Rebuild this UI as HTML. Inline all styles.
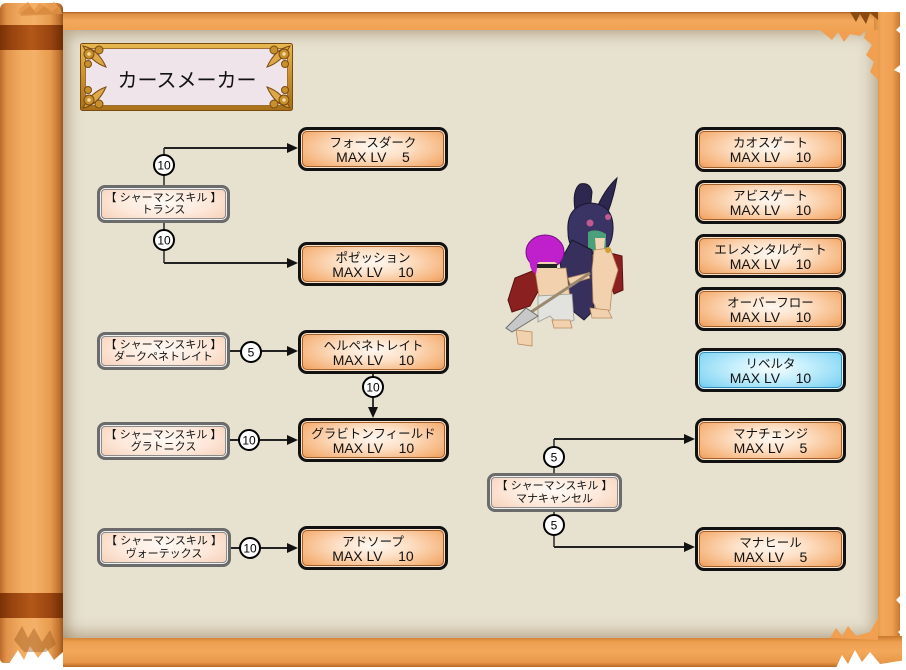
<!DOCTYPE html>
<html><head><meta charset="utf-8">
<style>
*{margin:0;padding:0}
html,body{width:906px;height:670px;overflow:hidden;background:#fff}
body{position:relative;font-family:"Liberation Sans","Noto Sans CJK JP",sans-serif;color:#111}
.a{position:absolute}
.topbar{left:40px;top:12px;width:852px;height:24px;background:linear-gradient(#a85e1e 0,#dc8e40 2px,#f2a85c 35%,#f0a252 75%,#d4883a 100%)}
.rightbar{left:874px;top:12px;width:26px;height:655px;background:linear-gradient(to right,#d88c3e 0,#f2a85a 30%,#f0a050 70%,#c8782c 100%)}
.botbar{left:40px;top:636px;width:862px;height:31px;background:linear-gradient(#c8782c 0,#eea050 20%,#f2a85a 50%,#e89848 85%,#b86a24 100%)}
.parch{left:62px;top:30px;width:816px;height:608px;background:#e7e1d0;box-shadow:inset 10px 8px 14px -4px rgba(140,110,70,.5),inset -10px -10px 14px -4px rgba(140,110,70,.45)}
.roll{left:0;top:3px;width:63px;height:660px;border-radius:6px 6px 4px 4px;background:linear-gradient(to right,#b96c2a 0,#e0924a 10%,#f2ac62 35%,#f4b068 55%,#e89c4e 80%,#c07230 94%,#9a5420 100%)}
.band{left:0;width:63px;height:25px;background:linear-gradient(to right,#7a3206 0,#9a4510 20%,#b25818 50%,#9a4510 80%,#6e2c04 100%)}
.sk{position:absolute;box-sizing:border-box;display:flex;flex-direction:column;align-items:center;justify-content:center;padding-top:2px;border:3px solid #111;border-radius:9px;background:radial-gradient(ellipse 62% 75% at 50% 45%,#fff8f2 0%,#fde0c6 40%,#f6b47c 85%,#f0a264 100%);box-shadow:inset 0 0 0 1px #fbe2cc,inset 0 0 0 2px #a0602c}
.blue{background:radial-gradient(ellipse 62% 75% at 50% 45%,#f6fdff 0%,#c8f0fd 40%,#8ed9f5 85%,#74cdf0 100%);box-shadow:inset 0 0 0 1px #e0f6ff,inset 0 0 0 2px #3a8cb8}
.j{font-size:12.5px;line-height:14px;white-space:nowrap}
.m{font-size:14px;line-height:15px;white-space:nowrap}
.pr{position:absolute;box-sizing:border-box;display:flex;flex-direction:column;align-items:center;justify-content:center;border:3px solid #6b6b6b;border-radius:8px;background:radial-gradient(ellipse 65% 80% at 50% 45%,#fffaf6 0%,#fde8da 55%,#f6d0b8 100%);box-shadow:inset 0 0 0 1px #f0f0f0,inset 0 0 0 2px #8c8c8c;font-size:11px;line-height:12.5px;white-space:nowrap}
</style></head><body>

<div class="a topbar"></div>
<div class="a rightbar"></div>
<div class="a botbar"></div>
<div class="a parch"></div>
<div class="a roll"></div>
<div class="a band" style="top:25px"></div>
<div class="a band" style="top:593px"></div>

<!-- torn details -->
<svg class="a" style="left:0;top:0" width="906" height="670">
  <polygon points="20,8 28,2 34,10 40,3 46,9 54,2 60,8 62,14 18,14" fill="#e89a4c"/>
  <polygon points="22,12 30,6 36,13 44,6 52,12 58,6 62,14 20,16" fill="#d08438" opacity=".6"/>
  <polygon points="850,12 856,22 860,14 866,24 870,13 878,20 878,12" fill="#8a4a14"/>
  <polygon points="820,30 832,40 838,32 844,42 850,34 860,36 866,30" fill="#f0a050"/>
  <polygon points="866,30 878,30 878,80 870,72 874,62 866,55 872,45 864,38" fill="#f0a050"/>
  <polygon points="906,20 896,30 906,38" fill="#fff"/>
  <polygon points="906,60 894,70 906,76" fill="#fff"/>
  <polygon points="906,590 896,600 906,610" fill="#fff"/>
  <polygon points="906,625 898,632 906,640" fill="#fff"/>
  <polygon points="835,670 842,655 848,664 855,650 862,662 870,652 880,664 906,660 906,670" fill="#fff"/>
  <polygon points="830,638 836,628 842,636 848,626 856,636 870,632 878,618 878,640" fill="#f0a050"/>
  <polygon points="10,662 18,650 24,660 30,646 38,658 46,648 54,660 63,652 63,670 10,670" fill="#fff"/>
  <polygon points="14,640 22,626 28,638 34,628 42,642 50,630 56,644 46,652 24,652" fill="#a05a20" opacity=".45"/>
</svg>

<!-- title plaque -->
<svg class="a" style="left:80px;top:43px" width="213" height="68">
  <defs>
    <linearGradient id="g" x1="0" y1="0" x2="0" y2="1">
      <stop offset="0" stop-color="#e8b850"/><stop offset=".5" stop-color="#c89030"/><stop offset="1" stop-color="#a87018"/>
    </linearGradient>
    <g id="orn">
      <path d="M3,3 Q18,6 26,24 Q11,19 3,3Z" fill="#dca848" stroke="#7a4a10" stroke-width="1"/>
      <circle cx="9" cy="11" r="5" fill="#c8902c" stroke="#7a4a10" stroke-width="1"/>
      <circle cx="19" cy="7" r="4" fill="#c8902c" stroke="#7a4a10" stroke-width="1"/>
      <circle cx="8" cy="21" r="3.5" fill="#c8902c" stroke="#7a4a10" stroke-width="1"/>
      <circle cx="9" cy="11" r="1.8" fill="#f4dca0"/>
    </g>
  </defs>
  <rect x="0.5" y="0.5" width="212" height="67" rx="2" fill="url(#g)" stroke="#7a4a10"/>
  <rect x="5.5" y="5.5" width="202" height="57" fill="#efe4ea" stroke="#a07030"/>
  <use href="#orn"/>
  <use href="#orn" transform="translate(213,0) scale(-1,1)"/>
  <use href="#orn" transform="translate(0,68) scale(1,-1)"/>
  <use href="#orn" transform="translate(213,68) scale(-1,-1)"/>
  <text x="107" y="44" text-anchor="middle" font-family="Liberation Sans, Noto Sans CJK JP, sans-serif" font-size="20" fill="#111">カースメーカー</text>
</svg>

<!-- character sprite -->
<svg class="a" style="left:480px;top:170px" width="160" height="185">
  <path d="M95,40 Q92,20 100,14 Q110,12 112,22 L110,42Z" fill="#2e2850" stroke="#1a1630"/>
  <path d="M116,40 Q124,20 137,8 Q134,26 128,42Z" fill="#2e2850" stroke="#1a1630"/>
  <path d="M88,62 Q86,36 110,33 Q134,34 133,60 Q132,78 120,84 L100,84 Q88,78 88,62Z" fill="#3a3464" stroke="#1a1630"/>
  <circle cx="110" cy="53" r="3.5" fill="#c05a90"/>
  <circle cx="128" cy="47" r="3" fill="#c05a90"/>
  <path d="M108,62 Q116,58 126,64 L126,80 L108,82Z" fill="#4aa07a"/>
  <path d="M115,68 L125,68 L124,80 L116,80Z" fill="#f2d4b4"/>
  <path d="M92,70 L112,80 L114,140 L104,150 L94,142 L84,118 L80,92Z" fill="#38305c" stroke="#1a1630"/>
  <path d="M126,82 L142,86 L143,120 L134,124 L128,108Z" fill="#8c2020" stroke="#5a1010"/>
  <path d="M114,80 L130,78 L138,100 L132,120 L130,140 L120,146 L113,132 L112,100Z" fill="#f2d2ae" stroke="#b88a60" stroke-width=".8"/>
  <circle cx="128" cy="80" r="3" fill="#d0a030"/>
  <path d="M110,138 L128,140 L132,148 L112,148Z" fill="#f2d2ae" stroke="#b88a60" stroke-width=".8"/>
  <path d="M55,100 L35,108 L28,130 L32,142 L50,136 L60,118Z" fill="#8a2020" stroke="#5a1010"/>
  <path d="M55,100 L86,98 L90,128 L60,132Z" fill="#f2d2ae" stroke="#b88a60" stroke-width=".8"/>
  <path d="M58,126 L92,124 L94,150 L80,156 L70,146 L58,152Z" fill="#e2e2de" stroke="#9a9a96" stroke-width=".8"/>
  <ellipse cx="65" cy="82" rx="19" ry="17" fill="#c020cc" stroke="#7a1088"/>
  <path d="M50,86 Q48,100 56,104 L58,92Z" fill="#c020cc"/>
  <rect x="57" y="92" width="20" height="10" rx="3" fill="#f2d2ae"/>
  <rect x="57" y="94" width="20" height="4" fill="#222"/>
  <path d="M88,108 L108,103 L110,108 L90,114Z" fill="#f2d2ae" stroke="#b88a60" stroke-width=".8"/>
  <line x1="30" y1="156" x2="110" y2="103" stroke="#9a8a70" stroke-width="3"/>
  <path d="M26,158 L46,138 L58,146 L32,162Z" fill="#c8c8c8" stroke="#707070"/>
  <path d="M36,160 L52,162 L52,176 L38,174Z" fill="#f2d2ae" stroke="#b88a60" stroke-width=".8"/>
  <path d="M72,150 L90,150 L92,158 L74,158Z" fill="#f2d2ae" stroke="#b88a60" stroke-width=".8"/>
</svg>

<!-- connectors -->
<svg class="a" style="left:0;top:0" width="906" height="670" font-family="Liberation Sans, sans-serif" font-size="12">
  <g fill="none" stroke-width="2">
    <path d="M164,185 V148" stroke="#555"/><path d="M164,148 H289" stroke="#222"/>
    <path d="M164,223 V263" stroke="#555"/><path d="M164,263 H289" stroke="#222"/>
    <path d="M230,351 H289" stroke="#222"/>
    <path d="M373,374 V409" stroke="#333"/>
    <path d="M230,440 H289" stroke="#222"/>
    <path d="M231,548 H289" stroke="#222"/>
    <path d="M554,473 V439" stroke="#555"/><path d="M554,439 H686" stroke="#222"/>
    <path d="M554,512 V547" stroke="#555"/><path d="M554,547 H686" stroke="#222"/>
  </g>
  <g fill="#111">
    <polygon points="287,143 298,148 287,153"/>
    <polygon points="287,258 298,263 287,268"/>
    <polygon points="287,346 298,351 287,356"/>
    <polygon points="287,435 298,440 287,445"/>
    <polygon points="287,543 298,548 287,553"/>
    <polygon points="368,407 373,418 378,407"/>
    <polygon points="684,434 695,439 684,444"/>
    <polygon points="684,542 695,547 684,552"/>
  </g>
  <g fill="#fff" stroke="#000" stroke-width="2">
    <circle cx="164" cy="165" r="10"/>
    <circle cx="164" cy="240" r="10"/>
    <circle cx="251" cy="352" r="10"/>
    <circle cx="373" cy="387" r="10"/>
    <circle cx="249" cy="440" r="10"/>
    <circle cx="250" cy="548" r="10"/>
    <circle cx="554" cy="457" r="10"/>
    <circle cx="554" cy="525" r="10"/>
  </g>
  <g fill="#000" text-anchor="middle">
    <text x="164" y="169.5">10</text>
    <text x="164" y="244.5">10</text>
    <text x="251" y="356.5">5</text>
    <text x="373" y="391.5">10</text>
    <text x="249" y="444.5">10</text>
    <text x="250" y="552.5">10</text>
    <text x="554" y="461.5">5</text>
    <text x="554" y="529.5">5</text>
  </g>
</svg>

<!-- prerequisite boxes -->
<div class="pr" style="left:97px;top:185px;width:133px;height:38px"><span>【 シャーマンスキル 】</span><span>トランス</span></div>
<div class="pr" style="left:97px;top:332px;width:133px;height:38px"><span>【 シャーマンスキル 】</span><span>ダークペネトレイト</span></div>
<div class="pr" style="left:97px;top:422px;width:133px;height:38px"><span>【 シャーマンスキル 】</span><span>グラトニクス</span></div>
<div class="pr" style="left:97px;top:528px;width:134px;height:39px"><span>【 シャーマンスキル 】</span><span>ヴォーテックス</span></div>
<div class="pr" style="left:487px;top:473px;width:135px;height:39px"><span>【 シャーマンスキル 】</span><span>マナキャンセル</span></div>

<!-- skill boxes -->
<div class="sk" style="left:298px;top:127px;width:150px;height:44px"><span class="j">フォースダーク</span><span class="m">MAX LV&nbsp;&nbsp;&nbsp;&nbsp;5</span></div>
<div class="sk" style="left:298px;top:242px;width:150px;height:44px"><span class="j">ポゼッション</span><span class="m">MAX LV&nbsp;&nbsp;&nbsp;&nbsp;10</span></div>
<div class="sk" style="left:298px;top:330px;width:151px;height:44px"><span class="j">ヘルペネトレイト</span><span class="m">MAX LV&nbsp;&nbsp;&nbsp;&nbsp;10</span></div>
<div class="sk" style="left:298px;top:418px;width:151px;height:44px"><span class="j">グラビトンフィールド</span><span class="m">MAX LV&nbsp;&nbsp;&nbsp;&nbsp;10</span></div>
<div class="sk" style="left:298px;top:526px;width:150px;height:44px"><span class="j">アドソープ</span><span class="m">MAX LV&nbsp;&nbsp;&nbsp;&nbsp;10</span></div>

<div class="sk" style="left:695px;top:127px;width:151px;height:45px"><span class="j">カオスゲート</span><span class="m">MAX LV&nbsp;&nbsp;&nbsp;&nbsp;10</span></div>
<div class="sk" style="left:695px;top:180px;width:151px;height:44px"><span class="j">アビスゲート</span><span class="m">MAX LV&nbsp;&nbsp;&nbsp;&nbsp;10</span></div>
<div class="sk" style="left:695px;top:234px;width:151px;height:44px"><span class="j">エレメンタルゲート</span><span class="m">MAX LV&nbsp;&nbsp;&nbsp;&nbsp;10</span></div>
<div class="sk" style="left:695px;top:287px;width:151px;height:44px"><span class="j">オーバーフロー</span><span class="m">MAX LV&nbsp;&nbsp;&nbsp;&nbsp;10</span></div>
<div class="sk blue" style="left:695px;top:348px;width:151px;height:44px"><span class="j">リベルタ</span><span class="m">MAX LV&nbsp;&nbsp;&nbsp;&nbsp;10</span></div>
<div class="sk" style="left:695px;top:418px;width:151px;height:45px"><span class="j">マナチェンジ</span><span class="m">MAX LV&nbsp;&nbsp;&nbsp;&nbsp;5</span></div>
<div class="sk" style="left:695px;top:527px;width:151px;height:44px"><span class="j">マナヒール</span><span class="m">MAX LV&nbsp;&nbsp;&nbsp;&nbsp;5</span></div>

</body></html>
